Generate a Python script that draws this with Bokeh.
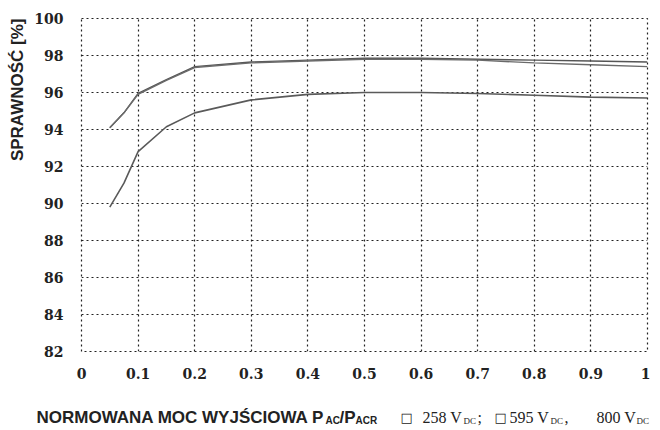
from bokeh.plotting import figure
from bokeh.models import FixedTicker, Label, Range1d, Title
from bokeh.embed import file_html
from bokeh.resources import INLINE

# ---- data ----
load_upper = [0.05, 0.075, 0.1, 0.15, 0.2, 0.3, 0.4, 0.5, 0.6, 0.7, 0.8, 0.9, 1.0]
eff_258 = [94.1, 94.9, 95.95, 96.7, 97.4, 97.65, 97.75, 97.85, 97.85, 97.8, 97.75, 97.7, 97.65]
eff_595 = [94.1, 94.9, 95.9, 96.65, 97.35, 97.6, 97.7, 97.8, 97.8, 97.75, 97.6, 97.5, 97.4]
load_lower = [0.05, 0.075, 0.1, 0.15, 0.2, 0.3, 0.4, 0.5, 0.6, 0.7, 0.8, 0.9, 1.0]
eff_800 = [89.8, 91.1, 92.8, 94.15, 94.9, 95.6, 95.9, 96.0, 96.0, 95.95, 95.85, 95.75, 95.7]

x_ticks = [0, 0.1, 0.2, 0.3, 0.4, 0.5, 0.6, 0.7, 0.8, 0.9, 1.0]
x_tick_labels = ["0", "0.1", "0.2", "0.3", "0.4", "0.5", "0.6", "0.7", "0.8", "0.9", "1"]
y_ticks = [82, 84, 86, 88, 90, 92, 94, 96, 98, 100]

INK = "#222222"

p = figure(width=650, height=384, output_backend="svg", toolbar_location=None,
           x_range=Range1d(0, 1), y_range=Range1d(82, 100),
           min_border_left=71, min_border_right=3, min_border_top=18, min_border_bottom=33)
p.background_fill_color = "white"
p.border_fill_color = "white"
p.outline_line_color = INK
p.outline_line_dash = "2 3"
p.outline_line_width = 1.2

for ax in (p.xaxis[0], p.yaxis[0]):
    ax.axis_line_color = None
    ax.major_tick_line_color = None
    ax.minor_tick_line_color = None
    ax.major_label_text_font = "DejaVu Serif"
    ax.major_label_text_font_style = "bold"
    ax.major_label_text_font_size = "14px"
    ax.major_label_text_color = INK

p.xaxis.ticker = FixedTicker(ticks=x_ticks)
p.xaxis.major_label_overrides = {t: l for t, l in zip(x_ticks, x_tick_labels)}
p.xaxis.major_label_standoff = 10
p.yaxis.ticker = FixedTicker(ticks=y_ticks)
p.yaxis.major_label_overrides = {t: str(t) for t in y_ticks}
p.yaxis.major_label_standoff = 12

for g in (p.xgrid[0], p.ygrid[0]):
    g.grid_line_color = INK
    g.grid_line_dash = "2 3"
    g.grid_line_width = 1.2

p.line(load_upper, eff_258, line_color="#555555", line_width=1.4)
p.line(load_upper, eff_595, line_color="#6a6a6a", line_width=1.4)
p.line(load_lower, eff_800, line_color="#5a5a5a", line_width=1.6)

# y axis title near the top of the axis, like the reference
p.add_layout(Title(text="SPRAWNOŚĆ [%]", align="right", text_font="Liberation Sans",
                   text_font_style="bold", text_font_size="17px", text_color=INK), "left")

# ---- strip below with the x axis title and the voltage legend ----
s = figure(width=650, height=43, output_backend="svg", toolbar_location=None,
           x_range=Range1d(0, 650), y_range=Range1d(0, 43),
           min_border=0, min_border_left=0, min_border_right=0,
           min_border_top=0, min_border_bottom=0)
s.axis.visible = False
s.grid.visible = False
s.outline_line_color = None
s.background_fill_color = "white"
s.border_fill_color = "white"

base = 10
def lab(x, y, t, size, style, font):
    s.add_layout(Label(x=x, y=y, text=t, text_align="left", text_baseline="alphabetic",
                       text_font=font, text_font_style=style,
                       text_font_size=size, text_color=INK))

SANS = "Liberation Sans"
SERIF = "Liberation Serif"
lab(36, base, "NORMOWANA MOC WYJŚCIOWA P", "17px", "bold", SANS)
lab(325, base - 3, "AC", "10px", "bold", SANS)
lab(339, base, "/P", "17px", "bold", SANS)
lab(355, base - 3, "ACR", "10px", "bold", SANS)
lab(400, base, "□", "13px", "normal", "DejaVu Sans")
lab(422, base, "258 V", "16px", "normal", SERIF)
lab(463, base - 3, "DC", "9px", "normal", SERIF)
lab(477, base, ";", "16px", "normal", SERIF)
lab(494, base, "□", "13px", "normal", "DejaVu Sans")
lab(509, base, "595 V", "16px", "normal", SERIF)
lab(550, base - 3, "DC", "9px", "normal", SERIF)
lab(564, base, ",", "16px", "normal", SERIF)
lab(596, base, "800 V", "16px", "normal", SERIF)
lab(636, base - 3, "DC", "9px", "normal", SERIF)

open("out.html", "w").write(file_html([p, s], INLINE))
